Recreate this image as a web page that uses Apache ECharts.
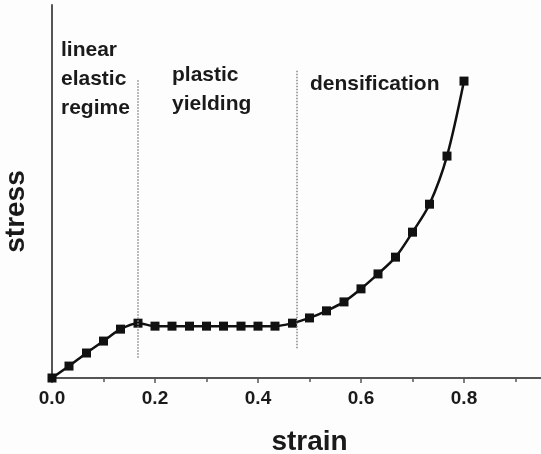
<!DOCTYPE html>
<html>
<head>
<meta charset="utf-8">
<script src="https://cdn.jsdelivr.net/npm/echarts@6/dist/echarts.min.js"></script>
<style>
  html, body { margin: 0; padding: 0; background: #fdfdfd; }
  #chart { width: 541px; height: 454px; }
</style>
</head>
<body>
<div id="chart"></div>
<script>
// strain values (x)
const strain = [
  0, 0.033, 0.067, 0.1, 0.133, 0.167, 0.2, 0.233, 0.267, 0.3, 0.333, 0.367,
  0.4, 0.433, 0.467, 0.5, 0.533, 0.567, 0.6, 0.633, 0.667, 0.7, 0.733, 0.767, 0.8
]
// stress, arbitrary units (axis top = 100)
const stress = [
  0, 3.2, 6.7, 9.9, 13.1, 14.7, 13.9, 13.9, 13.9, 13.9, 13.9, 13.9,
  13.9, 13.9, 14.7, 16.1, 18.0, 20.4, 23.9, 27.9, 32.4, 39.1, 46.6, 59.5, 79.6
]
// regime boundaries (dotted lines): x, y from, y to
const boundaryX = [0.167, 0.476]
const boundaryFrom = [5.4, 8.0]
const boundaryTo = [79.9, 82.6]
const xTicks = [0, 0.2, 0.4, 0.6, 0.8]

const chart = echarts.init(document.getElementById('chart'), null, { renderer: 'canvas' })

const font = 'Liberation Sans, Arial, sans-serif'
const ink = '#1a1a1a'

chart.setOption({
  backgroundColor: '#fdfdfd',
  animation: false,
  grid: { left: 52, right: -26, top: 5, bottom: 76, outerBoundsMode: 'none', containLabel: false },
  xAxis: {
    type: 'value',
    min: 0,
    max: 1.0,
    interval: 0.2,
    name: 'strain',
    nameLocation: 'middle',
    nameGap: 50,
    nameTextStyle: { fontFamily: font, fontWeight: 'bold', fontSize: 28, color: ink },
    axisLine: { lineStyle: { color: '#555', width: 2 } },
    axisTick: { show: true, length: 5, lineStyle: { color: '#555', width: 1.5 } },
    minorTick: { show: true, splitNumber: 2, length: 4, lineStyle: { color: '#555', width: 1.5 } },
    splitLine: { show: false },
    axisLabel: {
      margin: 11,
      fontFamily: font,
      fontWeight: 'bold',
      fontSize: 19,
      color: ink,
      showMaxLabel: false,
      formatter: (v) => (xTicks.some((t) => Math.abs(t - v) < 1e-6) ? v.toFixed(1) : '')
    }
  },
  yAxis: {
    type: 'value',
    min: 0,
    max: 100,
    name: 'stress',
    nameLocation: 'middle',
    nameGap: 22,
    nameTextStyle: { fontFamily: font, fontWeight: 'bold', fontSize: 28, color: ink, padding: [0, 40, 0, 0] },
    axisLine: { show: true, lineStyle: { color: '#555', width: 2 } },
    axisTick: { show: false },
    axisLabel: { show: false },
    splitLine: { show: false }
  },
  series: [
    {
      type: 'line',
      data: strain.map((x, i) => [x, stress[i]]),
      smooth: 0.3,
      symbol: 'rect',
      symbolSize: 9,
      itemStyle: { color: '#111' },
      lineStyle: { color: '#111', width: 2.5 },
      markLine: {
        silent: true,
        symbol: 'none',
        label: { show: false },
        lineStyle: { type: 'dotted', color: '#888', width: 1.5 },
        data: boundaryX.map((x, i) => [
          { coord: [x, boundaryFrom[i]] },
          { coord: [x, boundaryTo[i]] }
        ])
      }
    }
  ],
  graphic: [
    {
      type: 'text', left: 61, top: 36,
      style: { text: 'linear\nelastic\nregime', font: 'bold 21px ' + font, lineHeight: 29, fill: ink }
    },
    {
      type: 'text', left: 172, top: 61,
      style: { text: 'plastic\nyielding', font: 'bold 21px ' + font, lineHeight: 29, fill: ink }
    },
    {
      type: 'text', left: 310, top: 70,
      style: { text: 'densification', font: 'bold 21px ' + font, lineHeight: 29, fill: ink }
    }
  ]
})
</script>
</body>
</html>
